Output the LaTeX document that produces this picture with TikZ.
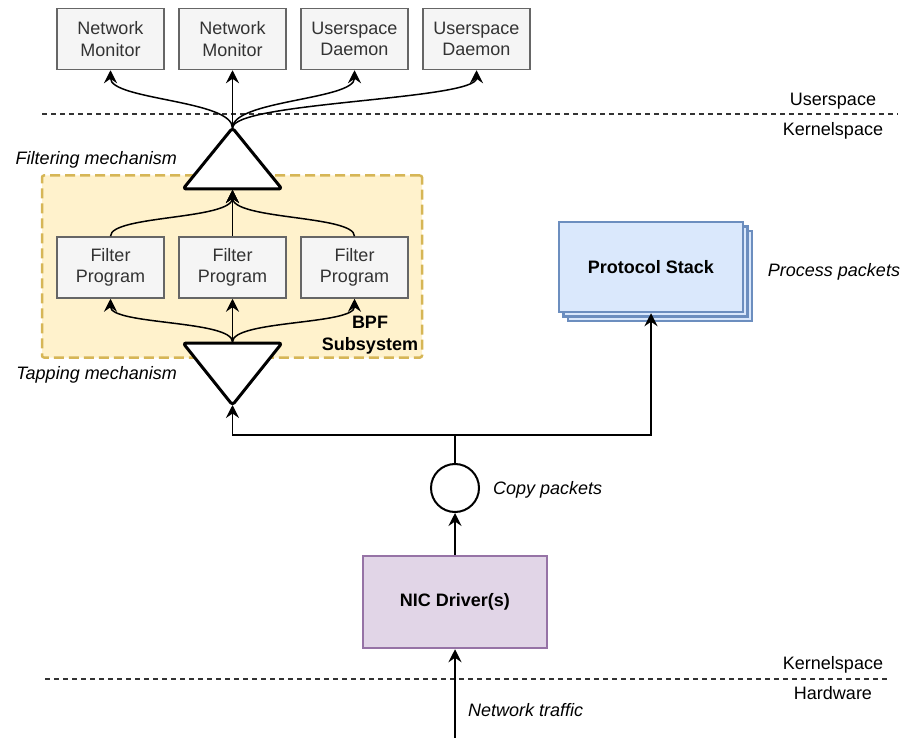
\documentclass[tikz,border=0pt]{standalone}
\usepackage{fontspec}
\setmainfont{Liberation Sans}
\usetikzlibrary{arrows.meta,positioning}

\definecolor{greyfill}{HTML}{F5F5F5}
\definecolor{greyline}{HTML}{666666}
\definecolor{greytext}{HTML}{333333}
\definecolor{bpffill}{HTML}{FFF2CC}
\definecolor{bpfline}{HTML}{D6B656}
\definecolor{stackfill}{HTML}{DAE8FC}
\definecolor{stackline}{HTML}{6C8EBF}
\definecolor{nicfill}{HTML}{E1D5E7}
\definecolor{nicline}{HTML}{9673A6}

\newcommand{\drawiofont}{\fontsize{18}{21.5}\selectfont}

\tikzset{
  every node/.style={font=\drawiofont},
  greybox/.style={draw=greyline, fill=greyfill, text=greytext, line width=1.5pt,
    minimum width=107, minimum height=61, align=center, inner sep=0pt},
  bpfbox/.style={draw=bpfline, fill=bpffill, line width=2.5pt, rounded corners=2pt,
    dash pattern=on 10pt off 5pt, minimum width=380, minimum height=182, inner sep=0pt},
  stackbox/.style={draw=stackline, fill=stackfill, line width=2.5pt,
    minimum width=184, minimum height=90, inner sep=0pt, font=\drawiofont\bfseries},
  nicbox/.style={draw=nicline, fill=nicfill, line width=2.5pt,
    minimum width=184, minimum height=92, inner sep=0pt, font=\drawiofont\bfseries},
  mech/.style={draw=black, fill=white, line width=3pt, rounded corners=3pt, line join=round},
  conn/.style={draw=black, line width=1.5pt, -{Stealth[length=13pt,width=13pt,inset=4.5pt]}},
  layer/.style={draw=greytext, line width=1.5pt, dash pattern=on 4.5pt off 4.5pt},
  note/.style={font=\drawiofont\itshape, inner sep=0pt},
  plain/.style={inner sep=0pt}
}

\begin{document}
\begin{tikzpicture}[x=1pt,y=-1pt]
    \useasboundingbox (0,0) rectangle (903,738);

    % Layer separators
    \draw [layer] (42,114) -- (898,114);
    \draw [layer] (45,679) -- (888,679);
    \node [plain] (user) at (833,101) {Userspace};
    \node [plain] (kern1) at (833,131) {Kernelspace};
    \node [plain] (kern2) at (833,665) {Kernelspace};
    \node [plain] (hw) at (833,693) {Hardware};

    % Userspace consumers
    \node [greybox] (mon1) at (110.5,39) {Network\\Monitor};
    \node [greybox] (mon2) at (232.5,39) {Network\\Monitor};
    \node [greybox] (dae1) at (354.5,39) {Userspace\\Daemon};
    \node [greybox] (dae2) at (476.5,39) {Userspace\\Daemon};

    % BPF subsystem
    \node [bpfbox] (bpf) at (232,266.5) {};
    \node [plain, align=center, font=\drawiofont\bfseries] (bpflabel) at (370,335) {BPF\\Subsystem};
    \node [greybox] (filt1) at (110.5,267.5) {Filter\\Program};
    \node [greybox] (filt2) at (232.5,267.5) {Filter\\Program};
    \node [greybox] (filt3) at (354.5,267.5) {Filter\\Program};

    % Filtering and tapping mechanisms
    \draw [mech] (183,189) -- (232.5,128) -- (282,189) -- cycle;
    \coordinate (filtApex) at (232.5,128);
    \coordinate (filtBase) at (232.5,190);
    \draw [mech] (183,343) -- (282,343) -- (232.5,405) -- cycle;
    \coordinate (tapTop) at (232.5,342);
    \coordinate (tapApex) at (232.5,405);
    \node [note, anchor=east] (filtlabel) at (177,160) {Filtering mechanism};
    \node [note, anchor=east] (taplabel) at (177,375) {Tapping mechanism};

    % Protocol stack
    \node [stackbox] at (660,276) {};
    \node [stackbox] at (655.5,271.5) {};
    \node [stackbox] (stack) at (651,267) {Protocol Stack};
    \node [note] (proclabel) at (834,272) {Process packets};

    % Copy point and driver
    \node [circle, draw=black, fill=white, line width=2pt, minimum size=48, inner sep=0pt] (copy) at (455,488) {};
    \node [note, anchor=west] (copylabel) at (493,490) {Copy packets};
    \node [nicbox] (nic) at (455,602) {NIC Driver(s)};
    \coordinate (wire) at (455,738);
    \coordinate (split) at (455,435);
    \node [note, anchor=west] (trafficlabel) at (468,710) {Network traffic};

    % Fan out to userspace
    \draw [conn] (filtApex) .. controls (232.5,100) and (110.5,100) .. (mon1.south);
    \draw [conn] (filtApex) -- (mon2.south);
    \draw [conn] (filtApex) .. controls (232.5,100) and (354.5,100) .. (dae1.south);
    \draw [conn] (filtApex) .. controls (232.5,102) and (476.5,100) .. (dae2.south);

    % Filters into filtering mechanism
    \draw [conn] (filt1.north) .. controls (110.5,215) and (232.5,220) .. (filtBase);
    \draw [conn] (filt2.north) -- (filtBase);
    \draw [conn] (filt3.north) .. controls (354.5,215) and (232.5,220) .. (filtBase);

    % Tapping mechanism into filters
    \draw [conn] (tapTop) .. controls (232.5,320) and (110.5,325) .. (filt1.south);
    \draw [conn] (tapTop) -- (filt2.south);
    \draw [conn] (tapTop) .. controls (232.5,320) and (354.5,325) .. (filt3.south);

    % Packet path
    \draw [conn] (wire) -- (nic.south);
    \draw [conn] (nic.north) -- (copy.south);
    \draw [line width=1.5pt] (copy.north) -- (split);
    \draw [conn] (split) -| (tapApex);
    \draw [conn] (split) -| (stack.south);
\end{tikzpicture}
\end{document}
